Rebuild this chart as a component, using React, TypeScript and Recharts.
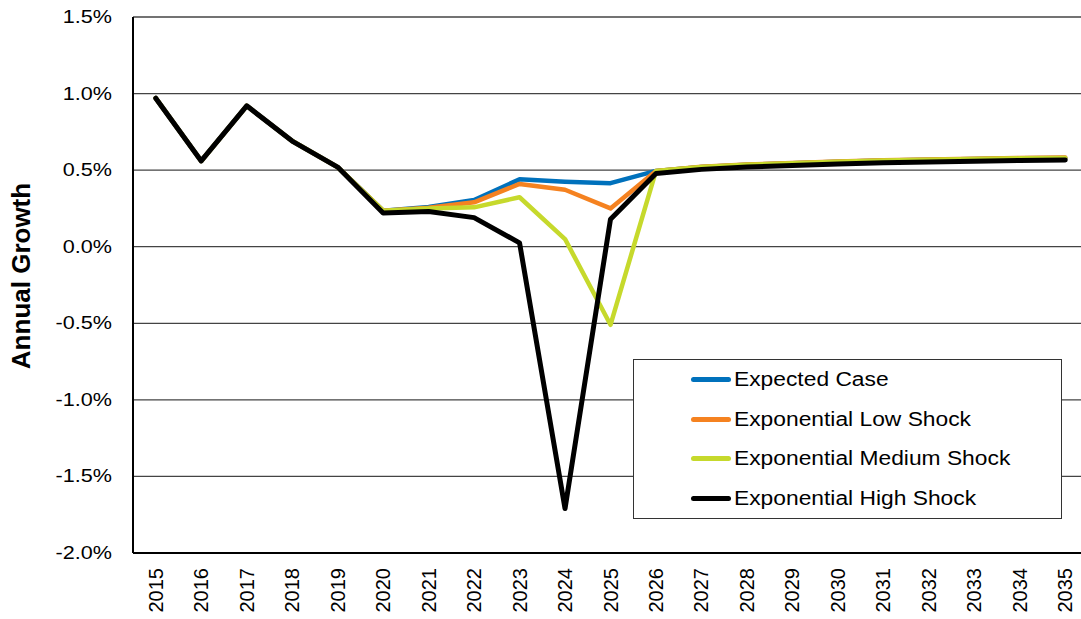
import { CartesianGrid, Label, Line, LineChart, XAxis, YAxis } from "recharts";

const years = [
  "2015", "2016", "2017", "2018", "2019", "2020", "2021", "2022", "2023", "2024", "2025",
  "2026", "2027", "2028", "2029", "2030", "2031", "2032", "2033", "2034", "2035",
];

// annual growth, in percent
const expectedCase = [0.97, 0.56, 0.92, 0.69, 0.52, 0.235, 0.26, 0.305, 0.44, 0.425, 0.415, 0.495, 0.52, 0.535, 0.545, 0.555, 0.563, 0.568, 0.573, 0.577, 0.58];
const lowShock = [0.97, 0.56, 0.92, 0.69, 0.52, 0.235, 0.255, 0.29, 0.41, 0.372, 0.25, 0.495, 0.522, 0.537, 0.547, 0.557, 0.565, 0.57, 0.575, 0.579, 0.582];
const mediumShock = [0.97, 0.56, 0.92, 0.69, 0.52, 0.235, 0.25, 0.257, 0.323, 0.05, -0.51, 0.495, 0.52, 0.535, 0.545, 0.555, 0.563, 0.568, 0.573, 0.577, 0.58];
const highShock = [0.97, 0.56, 0.92, 0.69, 0.52, 0.22, 0.23, 0.19, 0.025, -1.71, 0.18, 0.478, 0.505, 0.52, 0.53, 0.54, 0.548, 0.553, 0.558, 0.563, 0.567];

const yTicks = [-2, -1.5, -1, -0.5, 0, 0.5, 1, 1.5];

const series = [
  { key: "expected", name: "Expected Case", color: "#0071BC", width: 4.5 },
  { key: "low", name: "Exponential Low Shock", color: "#F58220", width: 4.5 },
  { key: "medium", name: "Exponential Medium Shock", color: "#C6D92C", width: 4.5 },
  { key: "high", name: "Exponential High Shock", color: "#000000", width: 5 },
];

const data = years.map((year, i) => ({
  year,
  expected: expectedCase[i],
  low: lowShock[i],
  medium: mediumShock[i],
  high: highShock[i],
}));

const font = '"Liberation Sans", Arial, sans-serif';

function YTick({ x, y, payload }: any) {
  return (
    <text x={0} y={0} dy={6} transform={`translate(${x},${y}) scale(1.2,1)`} textAnchor="end" fontSize={18} fontFamily={font} fill="#000">
      {`${Number(payload.value).toFixed(1)}%`}
    </text>
  );
}

function XTick({ x, y, payload }: any) {
  return (
    <text x={0} y={0} transform={`translate(${x + 7},${y}) rotate(-90)`} textAnchor="end" fontSize={20} fontFamily={font} fill="#000">
      {payload.value}
    </text>
  );
}

function LegendBox() {
  return (
    <div style={{ position: "absolute", left: 633, top: 359, width: 429, height: 160, boxSizing: "border-box", border: "1.5px solid #333", background: "#fff", fontFamily: font }}>
      {series.map((s) => (
        <div key={s.key} style={{ height: 39.5, display: "flex", alignItems: "center" }}>
          <div style={{ marginLeft: 57, width: 40, height: 5, borderRadius: 3, background: s.color }} />
          <span style={{ marginLeft: 3, fontSize: 20, color: "#000", transform: "scaleX(1.14)", transformOrigin: "left center", whiteSpace: "nowrap" }}>
            {s.name}
          </span>
        </div>
      ))}
    </div>
  );
}

export default function App() {
  return (
    <div style={{ position: "absolute", left: 0, top: 0, width: 1081, height: 619, overflow: "hidden", background: "#fff" }}>
      <LineChart width={1088} height={619} data={data} margin={{ top: 17, right: 0, bottom: 0, left: 0 }}>
        <CartesianGrid vertical={false} stroke="#444" strokeWidth={1.3} />
        <XAxis
          dataKey="year"
          interval={0}
          height={66}
          padding={{ left: 22.75, right: 22.75 }}
          tickLine={false}
          tickSize={0}
          tickMargin={15}
          tick={<XTick />}
          axisLine={{ stroke: "#000", strokeWidth: 2 }}
        />
        <YAxis
          type="number"
          domain={[-2, 1.5]}
          ticks={yTicks}
          width={133}
          tickLine={false}
          tickSize={0}
          tickMargin={21}
          tick={<YTick />}
          axisLine={{ stroke: "#000", strokeWidth: 2 }}
        >
          <Label
            content={() => (
              <text x={0} y={0} transform="translate(30,276) rotate(-90)" textAnchor="middle" fontSize={26} fontWeight="bold" fontFamily={font} fill="#000">
                Annual Growth
              </text>
            )}
          />
        </YAxis>
        {series.map((s) => (
          <Line
            key={s.key}
            type="linear"
            dataKey={s.key}
            name={s.name}
            stroke={s.color}
            strokeWidth={s.width}
            strokeLinejoin="round"
            strokeLinecap="round"
            dot={false}
            activeDot={false}
            isAnimationActive={false}
          />
        ))}
      </LineChart>
      <LegendBox />
    </div>
  );
}
